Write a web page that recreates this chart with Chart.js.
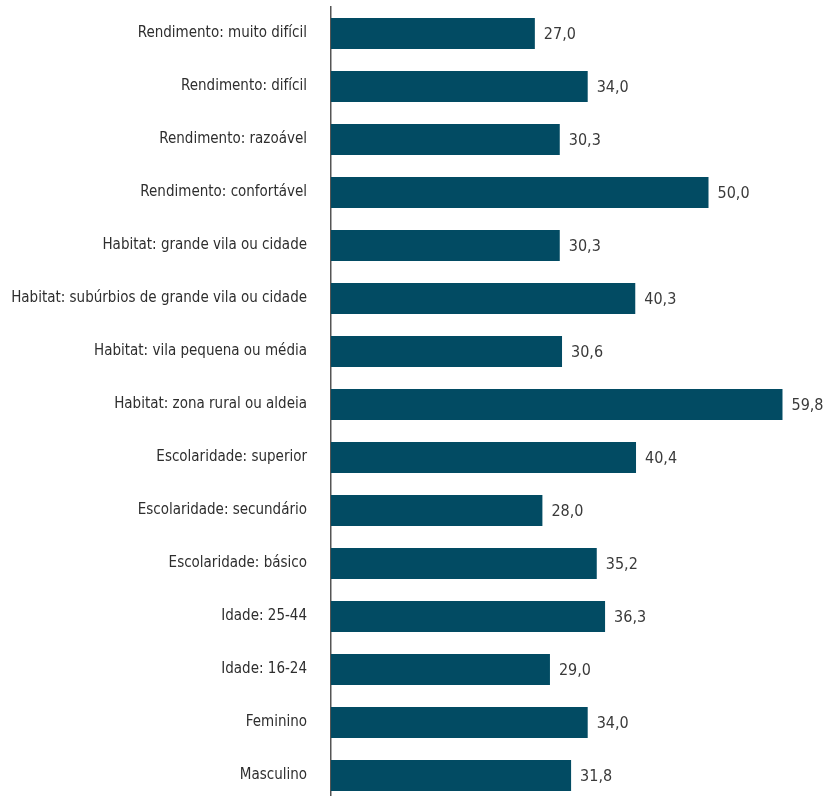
<!DOCTYPE html>
<html>
<head>
<meta charset="utf-8">
<script src="https://cdn.jsdelivr.net/npm/chart.js@4"></script>
<style>
  html, body { margin: 0; padding: 0; background: #fff; overflow: hidden; }
  #wrap { width: 826px; height: 802px; }
</style>
</head>
<body>
<div id="wrap"><canvas id="cchart" width="826" height="802"></canvas></div>
<script>
const categories = [
    "Rendimento: muito difícil",
    "Rendimento: difícil",
    "Rendimento: razoável",
    "Rendimento: confortável",
    "Habitat: grande vila ou cidade",
    "Habitat: subúrbios de grande vila ou cidade",
    "Habitat: vila pequena ou média",
    "Habitat: zona rural ou aldeia",
    "Escolaridade: superior",
    "Escolaridade: secundário",
    "Escolaridade: básico",
    "Idade: 25-44",
    "Idade: 16-24",
    "Feminino",
    "Masculino"
];
const values = [27.0, 34.0, 30.3, 50.0, 30.3, 40.3, 30.6, 59.8, 40.4, 28.0, 35.2, 36.3, 29.0, 34.0, 31.8];

const FONT = "'Liberation Sans Narrow', 'DejaVu Sans Condensed', 'Roboto', sans-serif";

/*
    Draw the value next to the end of each bar
*/
const valueLabels = {
    id: 'valueLabels',
    afterDatasetsDraw(chart) {
        const ctx = chart.ctx;
        const meta = chart.getDatasetMeta(0);
        ctx.save();
        ctx.font = "16px " + FONT;
        ctx.fillStyle = "#3a3a3a";
        ctx.textAlign = "left";
        ctx.textBaseline = "middle";
        meta.data.forEach((bar, i) => {
            let txt = values[i].toFixed(1).replace('.', ',');
            ctx.fillText(txt, bar.x + 9, bar.y + 1);
        });
        ctx.restore();
    }
};

let ctx = document.getElementById('cchart').getContext('2d');
new Chart(ctx, {
    type: 'bar',
    data: {
        labels: categories,
        datasets: [{
            data: values,
            backgroundColor: '#024b63',
            borderWidth: 0,
            categoryPercentage: 1.0,
            barPercentage: 0.585
        }]
    },
    options: {
        indexAxis: 'y',
        responsive: false,
        animation: false,
        layout: { padding: { top: 7, right: 42, bottom: 0, left: 0 } },
        plugins: {
            legend: { display: false },
            tooltip: { enabled: false }
        },
        scales: {
            x: {
                min: 0,
                max: 60,
                display: false,
                grid: { display: false }
            },
            y: {
                grid: { display: false, drawTicks: false },
                border: { display: true, color: '#555', width: 1.5 },
                ticks: {
                    padding: 24,
                    color: '#2e2e2e',
                    font: { family: FONT, size: 15 }
                },
                afterFit(scale) {
                    // no extra room above/below the first and last label
                    scale.paddingTop = 0;
                    scale.paddingBottom = 0;
                    scale.width = 331;
                }
            }
        }
    },
    plugins: [valueLabels]
});
</script>
</body>
</html>
